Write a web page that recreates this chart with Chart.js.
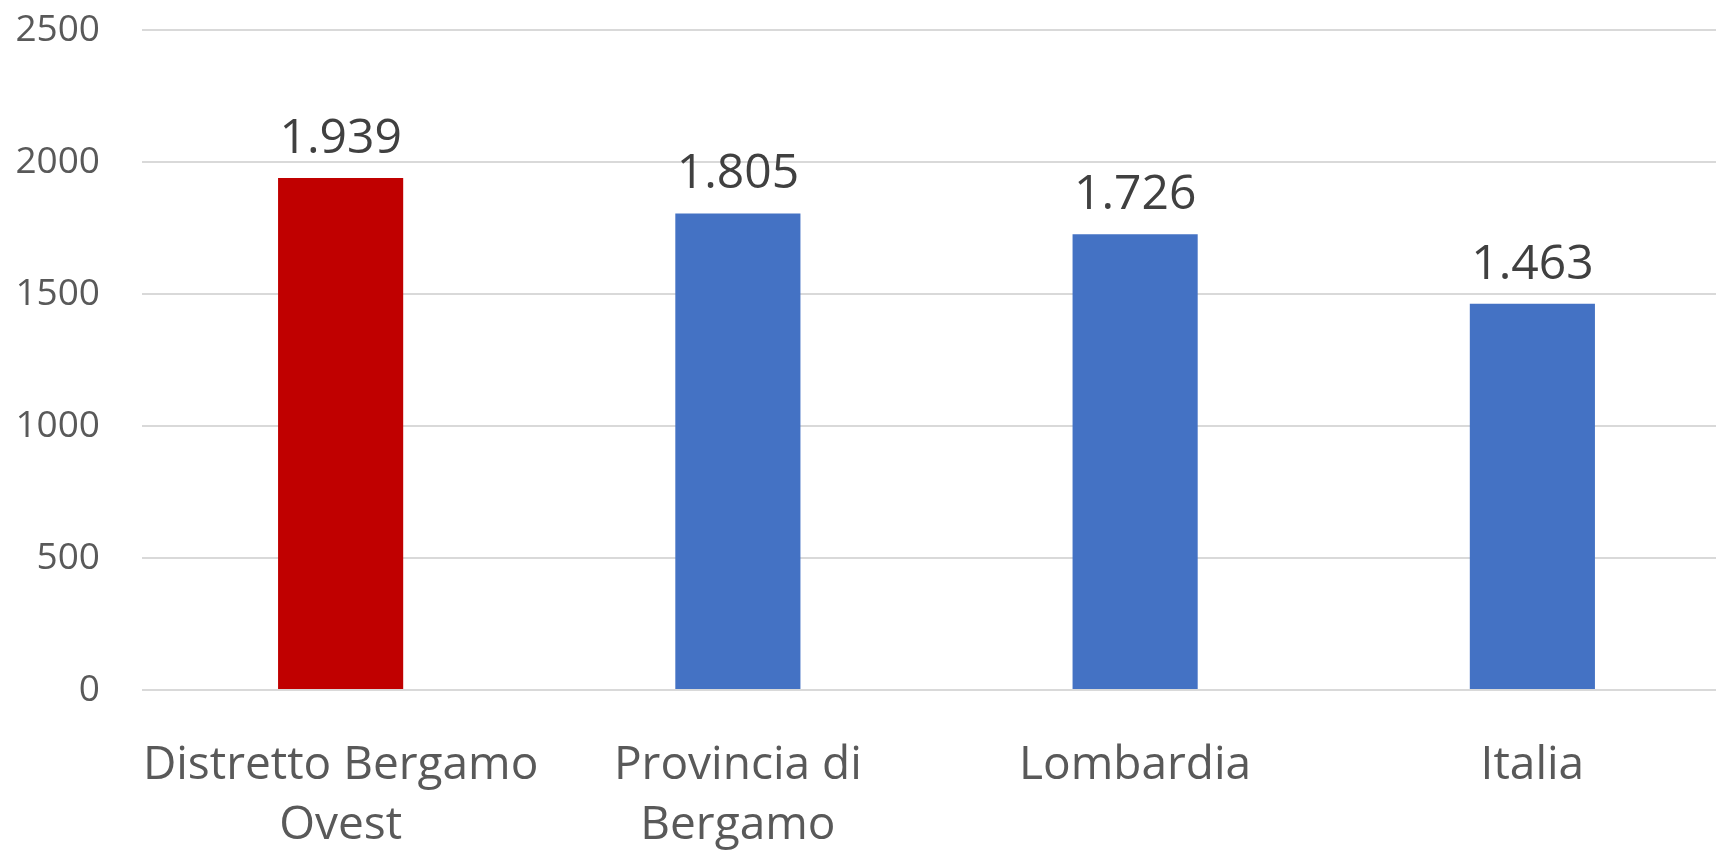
<!DOCTYPE html>
<html>
<head>
    <title>Distretto Bergamo Ovest</title>
    <script src="https://cdn.jsdelivr.net/npm/chart.js"></script>
    <style>
        body { margin: 0; overflow: hidden; background: #fff; }
        #wrap { width: 1731px; height: 850px; }
    </style>
</head>
<body>
    <div id="wrap"><canvas id="barChart"></canvas></div>
    <script>
        // dati
        var categories = [['Distretto Bergamo', 'Ovest'], ['Provincia di', 'Bergamo'], 'Lombardia', 'Italia'];
        var values = [1939, 1805, 1726, 1463];
        var barColors = ['#C00000', '#4472C4', '#4472C4', '#4472C4'];
        var yTicks = [0, 500, 1000, 1500, 2000, 2500];

        // etichette sopra le barre, con il punto come separatore delle migliaia
        var valueLabels = {
            id: 'valueLabels',
            afterDatasetsDraw: function (chart) {
                var ctx = chart.ctx;
                var meta = chart.getDatasetMeta(0);
                ctx.save();
                ctx.font = '48px "Open Sans"';
                ctx.fillStyle = '#404040';
                ctx.textAlign = 'center';
                ctx.textBaseline = 'alphabetic';
                meta.data.forEach(function (bar, i) {
                    var txt = String(values[i]).replace(/\B(?=(\d{3})+(?!\d))/g, '.');
                    ctx.fillText(txt, bar.x, bar.y - 25);
                });
                ctx.restore();
            }
        };

        var ctx = document.getElementById('barChart').getContext('2d');
        var myChart = new Chart(ctx, {
            type: 'bar',
            data: {
                labels: categories,
                datasets: [{
                    data: values,
                    backgroundColor: barColors,
                    barPercentage: 0.315,
                    categoryPercentage: 1
                }]
            },
            options: {
                responsive: true,
                maintainAspectRatio: false,
                animation: false,
                layout: { padding: { top: 30, left: 0, right: 0, bottom: 0 } },
                plugins: {
                    legend: { display: false },
                    tooltip: { enabled: false }
                },
                scales: {
                    x: {
                        afterFit: function (scale) { scale.height = 160; },
                        grid: { display: false, drawTicks: false },
                        border: { display: false },
                        ticks: {
                            color: '#595959',
                            padding: 46,
                            maxRotation: 0,
                            autoSkip: false,
                            font: { family: 'Open Sans', size: 46, lineHeight: 1.3 }
                        }
                    },
                    y: {
                        min: 0,
                        max: 2500,
                        afterBuildTicks: function (scale) {
                            scale.ticks = yTicks.map(function (v) { return { value: v }; });
                        },
                        afterFit: function (scale) {
                            scale.width = 142;
                            scale.paddingTop = 0;
                            scale.paddingBottom = 0;
                        },
                        grid: { color: '#d9d9d9', lineWidth: 2, drawTicks: false },
                        border: { display: false },
                        ticks: {
                            color: '#595959',
                            padding: 42,
                            font: { family: 'Open Sans', size: 37 },
                            callback: function (v) { return String(v); }
                        }
                    }
                }
            },
            plugins: [valueLabels]
        });
    </script>
</body>
</html>
